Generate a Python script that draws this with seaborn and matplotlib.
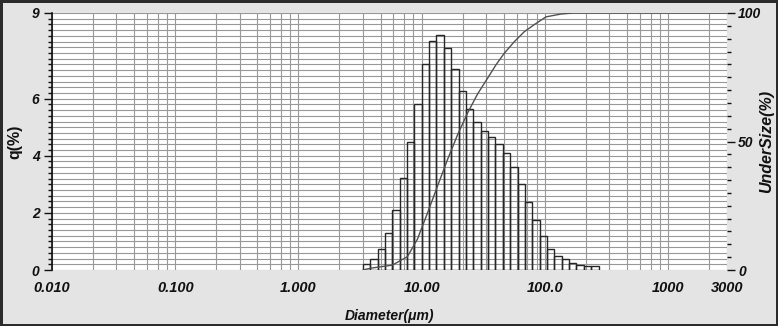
import numpy as np
import pandas as pd
import matplotlib
matplotlib.use("Agg")
import matplotlib.pyplot as plt
from matplotlib.ticker import FixedLocator, FixedFormatter, NullFormatter
import seaborn as sns

# ---------------- data ----------------
bin_edges_um = [3.33, 3.821, 4.385, 5.032, 5.774, 6.626, 7.603, 8.724, 10.01,
                11.49, 13.18, 15.13, 17.36, 19.92, 22.86, 26.23, 30.10, 34.54,
                39.63, 45.48, 52.19, 59.89, 68.72, 78.86, 90.49, 103.8, 119.2,
                136.7, 156.9, 180.0, 206.6, 237.1, 272.0]
q_percent = [0.20, 0.37, 0.72, 1.28, 2.10, 3.23, 4.48, 5.82, 7.22, 8.03, 8.22,
             7.77, 7.04, 6.27, 5.63, 5.17, 4.87, 4.66, 4.42, 4.10, 3.61, 3.01,
             2.39, 1.75, 1.19, 0.75, 0.50, 0.37, 0.25, 0.19, 0.15, 0.14]
curve_diameter_um = [3.33, 3.85, 5.78, 7.65, 9.23, 11.1, 13.4, 16.2, 19.5, 23.5,
                     28.4, 34.2, 40.0, 46.7, 56.3, 67.9, 82.0, 102.0, 135.0,
                     169.0, 3000.0]
curve_undersize = [0.0, 0.7, 1.9, 5.2, 12.0, 22.0, 32.5, 43.0, 52.5, 61.0,
                   68.5, 74.6, 79.8, 84.3, 88.8, 92.7, 95.5, 98.5, 99.6,
                   100.0, 100.0]
x_tick_values = [0.01, 0.1, 1, 10, 100, 1000, 3000]
x_tick_labels = ["0.010", "0.100", "1.000", "10.00", "100.0", "1000", "3000"]
x_minor_subs = [2.15, 3.33, 4.63, 5.9, 7.2, 8.55]
q_tick_values = [0, 2, 4, 6, 9]
under_tick_values = [0, 50, 100]

# ---------------- style ----------------
sns.set_theme(style="white")
plt.rcParams['font.family'] = ['Liberation Sans', 'DejaVu Sans']

W, H = 778, 326
fig = plt.figure(figsize=(W / 100, H / 100), dpi=100, facecolor='#e4e4e4')
fig.patch.set_edgecolor('#2b2b2b')
fig.patch.set_linewidth(2.5)

L, R, T, B = 52, 727, 13, 270
ax = fig.add_axes([L / W, (H - B) / H, (R - L) / W, (B - T) / H])
ax.set_facecolor('white')
ax.set_axisbelow(True)

edges = np.array(bin_edges_um)
centers = np.sqrt(edges[:-1] * edges[1:])
df = pd.DataFrame({"diameter": centers, "q": q_percent})
log_bins = [float(v) for v in np.log10(edges)]
sns.histplot(data=df, x="diameter", weights="q", bins=log_bins,
             log_scale=True, fill=False, element="bars", color="#262626",
             linewidth=1.0, ax=ax, zorder=3)

ax.set_xlim(0.01, 3000)
ax.set_ylim(0, 9)

# x ticks
minor_pos = [s * 10.0 ** k for k in range(-2, 4) for s in x_minor_subs
             if s * 10.0 ** k < 3000]
ax.xaxis.set_major_locator(FixedLocator(x_tick_values))
ax.xaxis.set_major_formatter(FixedFormatter(x_tick_labels))
ax.xaxis.set_minor_locator(FixedLocator(minor_pos))
ax.xaxis.set_minor_formatter(NullFormatter())

# y ticks (left)
ax.yaxis.set_major_locator(FixedLocator(q_tick_values))
ax.yaxis.set_minor_locator(FixedLocator(list(np.arange(0, 9.001, 0.2))))

ax.grid(which='both', axis='both', color='#989898', linewidth=0.8)

ax.tick_params(axis='both', which='major', direction='out', length=6,
               width=1, color='#111111', pad=3, labelcolor='#111111')
ax.tick_params(axis='both', which='minor', direction='out', length=3,
               width=1, color='#111111')
ax.tick_params(axis='x', which='major', pad=2, labelsize=10.5)
ax.tick_params(axis='y', which='major', labelsize=10)
for lab in ax.get_xticklabels() + ax.get_yticklabels():
    lab.set_fontweight('bold')
    lab.set_fontstyle('italic')

for side in ['top', 'right', 'bottom']:
    ax.spines[side].set_visible(False)
ax.spines['left'].set_color('#111111')
ax.spines['left'].set_linewidth(1.2)

ax.set_ylabel("q(%)", fontsize=11.5, fontweight='bold', color='#111111')
ax.yaxis.label.set_va('center')
ax.yaxis.label.set_ha('center')
ax.yaxis.set_label_coords(-(L - 15) / (R - L), 0.5)
ax.set_xlabel("Diameter(μm)", fontsize=10, fontweight='bold', fontstyle='italic',
              color='#111111')
ax.xaxis.label.set_va('center')
ax.xaxis.set_label_coords(0.5, -(316 - B) / (B - T))

# right axis: cumulative undersize
ax2 = ax.twinx()
sns.lineplot(x=curve_diameter_um, y=curve_undersize, ax=ax2, color='#505050',
             linewidth=1.0, sort=False, estimator=None)
ax2.set_ylim(0, 100)
ax2.set_xlim(0.01, 3000)
ax2.yaxis.set_major_locator(FixedLocator(under_tick_values))
ax2.yaxis.set_minor_locator(FixedLocator(list(range(0, 101, 5))))
ax2.grid(False)
for side in ['top', 'right', 'bottom', 'left']:
    ax2.spines[side].set_visible(False)
ax2.tick_params(axis='y', which='major', direction='out', length=6, width=1,
                color='#111111', labelsize=10, pad=2, labelcolor='#111111')
ax2.tick_params(axis='y', which='minor', direction='out', length=3, width=1,
                color='#111111')
for lab in ax2.get_yticklabels():
    lab.set_fontweight('bold')
    lab.set_fontstyle('italic')
ax2.set_ylabel("UnderSize(%)", fontsize=11.5, fontweight='bold',
               fontstyle='italic', color='#111111')
ax2.yaxis.label.set_va('center')
ax2.yaxis.label.set_ha('center')
ax2.yaxis.set_label_coords((767 - L) / (R - L), 0.5)

fig.savefig("out.png", dpi=100)
